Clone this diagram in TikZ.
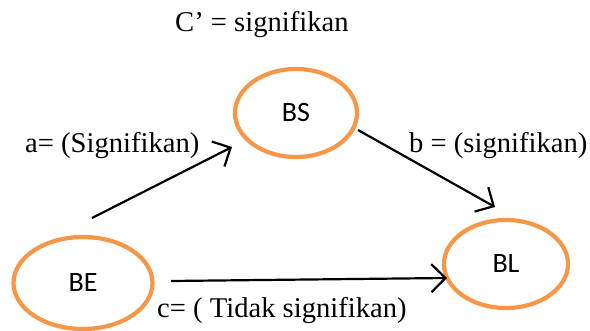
\documentclass[tikz,border=0pt]{standalone}
\usepackage{fontspec}
\setmainfont{Liberation Serif}
\newfontfamily\lblfont{Carlito}
\usetikzlibrary{shapes.geometric,arrows.meta}
\definecolor{ellorange}{HTML}{F79646}
\tikzset{
  var/.style={ellipse, draw=ellorange, line width=4.2pt, inner sep=0pt,
    font=\lblfont\fontsize{28}{33}\selectfont},
  arr/.style={line width=2.2pt, -{Straight Barb[length=14pt,width=28pt]}},
  lbl/.style={anchor=base west, inner sep=0pt, font=\fontsize{28.6}{34}\selectfont}
}
\begin{document}
\begin{tikzpicture}[x=1pt,y=1pt]
\useasboundingbox (0,0) rectangle (590,330);
\node[var, minimum width=122pt, minimum height=88pt] (BS) at (296,217) {BS};
\node[var, minimum width=139pt, minimum height=92pt] (BE) at (83,47) {BE};
\node[var, minimum width=124pt, minimum height=88pt] (BL) at (506,66) {BL};
\draw[arr] ([shift={(9,65)}]BE.center) -- ([shift={(-64,-34)}]BS.center);
\draw[arr] ([shift={(62,-17)}]BS.center) -- ([shift={(-11,57)}]BL.center);
\draw[arr] ([shift={(88,2)}]BE.center) -- ([shift={(-59,-14)}]BL.center);
\node[lbl] (cp) at (175,298) {C’ = signifikan};
\node[lbl] (la) at (25,177) {a= (Signifikan)};
\node[lbl] (lb) at (409,177) {b = (signifikan)};
\node[lbl] (lc) at (157,13) {c= ( Tidak signifikan)};
\end{tikzpicture}
\end{document}
